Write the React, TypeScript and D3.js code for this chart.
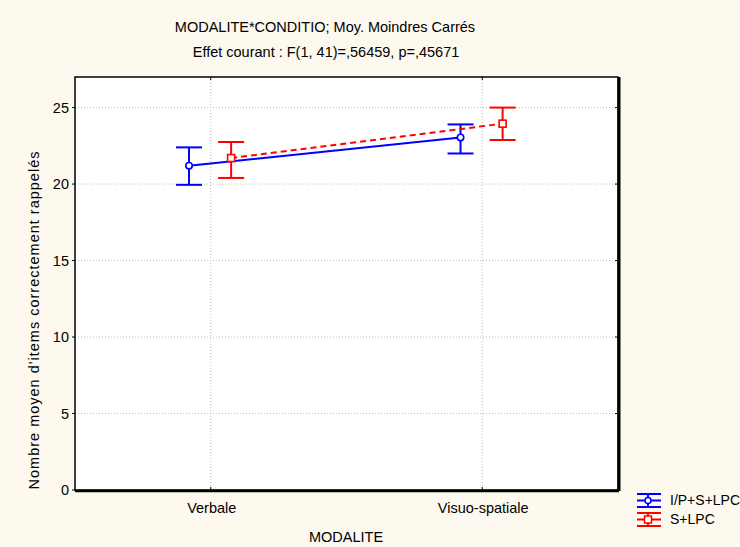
import React from "react";
import * as d3 from "d3";

const categories = ["Verbale", "Visuo-spatiale"];
const seriesNames = ["I/P+S+LPC", "S+LPC"];
const meanIPSLPC = [21.2, 23.05];
const lowIPSLPC = [19.95, 22.0];
const highIPSLPC = [22.4, 23.9];
const meanSLPC = [21.7, 23.95];
const lowSLPC = [20.4, 22.88];
const highSLPC = [22.75, 25.0];
const yTicks = [0, 5, 10, 15, 20, 25];
const titleLine1 = "MODALITE*CONDITIO; Moy. Moindres Carrés";
const titleLine2 = "Effet courant : F(1, 41)=,56459, p=,45671";
const xTitle = "MODALITE";
const yTitle = "Nombre moyen d'items correctement rappelés";

const W = 740;
const H = 547;
const L = 75;
const R = 618;
const T = 77;
const B = 490;
const FONT = "'Liberation Sans', Arial, sans-serif";
const FS = 14.5;

export default function App() {
  const x = d3.scaleLinear().domain([-0.5, 1.5]).range([L, R]);
  const y = d3.scaleLinear().domain([0, 27]).range([B, T]);

  const series = [
    { name: seriesNames[0], color: "#0000FF", mean: meanIPSLPC, lo: lowIPSLPC, hi: highIPSLPC, off: -0.08, dash: null, shape: "circle" },
    { name: seriesNames[1], color: "#FF0000", mean: meanSLPC, lo: lowSLPC, hi: highSLPC, off: 0.075, dash: "6,4", shape: "square" },
  ];

  const cap = 13;

  return (
    <svg
      width={W}
      height={H}
      style={{ position: "absolute", left: 0, top: 0, display: "block" }}
      fontFamily={FONT}
    >
      <rect x={0} y={0} width={W} height={H} fill="#FDF9EF" />
      <rect x={L} y={T} width={R - L} height={B - T} fill="#FFFFFF" />
      {yTicks.filter((t) => t > 0).map((t) => (
        <line key={"gy" + t} x1={L} x2={R} y1={y(t)} y2={y(t)} stroke="#BDBDBD" strokeWidth={1} strokeDasharray="1,2" />
      ))}
      {categories.map((c, i) => (
        <line key={"gx" + c} x1={x(i)} x2={x(i)} y1={T} y2={B} stroke="#BDBDBD" strokeWidth={1} strokeDasharray="1,2" />
      ))}
      <line x1={R + 1} x2={R + 1} y1={T} y2={B + 1} stroke="#000" strokeWidth={3} />
      <line x1={L} x2={R + 1} y1={B + 1} y2={B + 1} stroke="#000" strokeWidth={2.5} />
      <rect x={L} y={T} width={R - L} height={B - T} fill="none" stroke="#000" strokeWidth={1.5} />
      {yTicks.map((t) => (
        <g key={"ty" + t}>
          <line x1={L - 3} x2={L} y1={y(t)} y2={y(t)} stroke="#000" strokeWidth={1} />
          <line x1={R - 3} x2={R} y1={y(t)} y2={y(t)} stroke="#000" strokeWidth={1} />
          <text x={L - 6} y={y(t)} dy="0.35em" textAnchor="end" fontSize={FS} fill="#000">
            {t}
          </text>
        </g>
      ))}
      {categories.map((c, i) => (
        <g key={"tx" + c}>
          <line x1={x(i)} x2={x(i)} y1={B - 3} y2={B} stroke="#000" strokeWidth={1} />
          <line x1={x(i)} x2={x(i)} y1={T} y2={T + 3} stroke="#000" strokeWidth={1} />
          <text x={x(i) + 1} y={513} textAnchor="middle" fontSize={FS} fill="#000">
            {c}
          </text>
        </g>
      ))}
      {series.map((s) => {
        const pts = s.mean.map((m, i) => [x(i + s.off), y(m)] as [number, number]);
        const path = d3.line()(pts) || "";
        return (
          <g key={s.name}>
            <path d={path} fill="none" stroke={s.color} strokeWidth={2} strokeDasharray={s.dash || undefined} />
            {s.mean.map((m, i) => {
              const cx = x(i + s.off);
              return (
                <g key={i}>
                  <line x1={cx} x2={cx} y1={y(s.lo[i])} y2={y(s.hi[i])} stroke={s.color} strokeWidth={2} />
                  <line x1={cx - cap} x2={cx + cap} y1={y(s.lo[i])} y2={y(s.lo[i])} stroke={s.color} strokeWidth={2} />
                  <line x1={cx - cap} x2={cx + cap} y1={y(s.hi[i])} y2={y(s.hi[i])} stroke={s.color} strokeWidth={2} />
                  {s.shape === "circle" ? (
                    <circle cx={cx} cy={y(m)} r={3.2} fill="#fff" stroke={s.color} strokeWidth={1.6} />
                  ) : (
                    <rect x={cx - 3.5} y={y(m) - 3.5} width={7} height={7} fill="#fff" stroke={s.color} strokeWidth={1.6} />
                  )}
                </g>
              );
            })}
          </g>
        );
      })}
      <text x={325} y={32} textAnchor="middle" fontSize={FS} fill="#000">{titleLine1}</text>
      <text x={326} y={57} textAnchor="middle" fontSize={FS} fill="#000">{titleLine2}</text>
      <text x={346} y={542} textAnchor="middle" fontSize={FS} fill="#000">{xTitle}</text>
      <text transform={`translate(39,320) rotate(-90)`} textAnchor="middle" fontSize={FS} letterSpacing={1} fill="#000">{yTitle}</text>
      {series.map((s, k) => {
        const top = 494 + k * 19;
        const bot = top + 13;
        const mid = (top + bot) / 2;
        const x0 = 637;
        const x1 = 661;
        const cx = 648;
        return (
          <g key={"lg" + s.name}>
            <line x1={x0} x2={x1} y1={top} y2={top} stroke={s.color} strokeWidth={2} />
            <line x1={x0} x2={x1} y1={bot} y2={bot} stroke={s.color} strokeWidth={2} />
            <line x1={cx} x2={cx} y1={top} y2={bot} stroke={s.color} strokeWidth={2} />
            <line x1={x0} x2={x1} y1={mid} y2={mid} stroke={s.color} strokeWidth={2} />
            {s.shape === "circle" ? (
              <circle cx={cx} cy={mid} r={3} fill="#fff" stroke={s.color} strokeWidth={1.5} />
            ) : (
              <rect x={cx - 3.5} y={mid - 3.5} width={7} height={7} fill="#fff" stroke={s.color} strokeWidth={1.5} />
            )}
            <text x={670} y={mid} dy="0.35em" fontSize={14} fill="#000">{s.name}</text>
          </g>
        );
      })}
    </svg>
  );
}
